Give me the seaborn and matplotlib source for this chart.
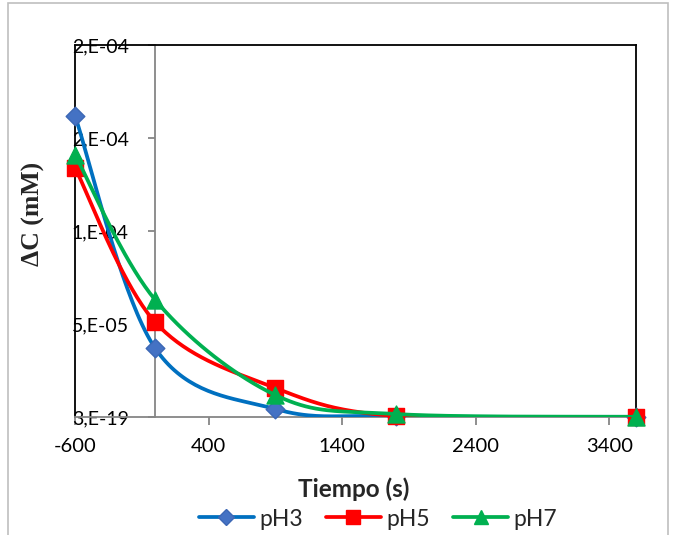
import numpy as np
import pandas as pd
import matplotlib
matplotlib.use("Agg")
import matplotlib.pyplot as plt
import seaborn as sns
from matplotlib.lines import Line2D

# ---- data ----
time_s = [-600, 0, 900, 1800, 3600]
ph3 = [1.62e-4, 3.7e-5, 4.3e-6, 5e-7, 1e-7]
ph5 = [1.34e-4, 5.1e-5, 1.56e-5, 5e-7, 0.0]
ph7 = [1.41e-4, 6.3e-5, 1.18e-5, 1.6e-6, 1e-7]
series_names = ["pH3", "pH5", "pH7"]
y_ticks = [0, 5e-5, 1e-4, 1.5e-4, 2e-4]
y_tick_labels = ["3,E-19", "5,E-05", "1,E-04", "2,E-04", "2,E-04"]
x_ticks = [-600, 400, 1400, 2400, 3400]
x_label = "Tiempo (s)"
y_label = "ΔC (mM)"

line_colors = {"pH3": "#0070C0", "pH5": "#FF0000", "pH7": "#00B050"}
marker_face = {"pH3": "#4472C4", "pH5": "#FF0000", "pH7": "#00B050"}
marker_edge = {"pH3": "#3C67B5", "pH5": "#FF0000", "pH7": "#00B050"}
markers = {"pH3": "D", "pH5": "s", "pH7": "^"}
marker_size = {"pH3": 90, "pH5": 140, "pH7": 150}
legend_marker_size = {"pH3": 8, "pH5": 10, "pH7": 10.5}


def excel_smooth(xs, ys, n=40):
    """Bezier smoothing like Excel's 'smoothed line' (Catmull-Rom control points)."""
    P = np.column_stack([np.asarray(xs, float), np.asarray(ys, float)])
    out = []
    for i in range(len(P) - 1):
        p0 = P[i - 1] if i > 0 else P[i]
        p1, p2 = P[i], P[i + 1]
        p3 = P[i + 2] if i + 2 < len(P) else P[i + 1]
        c1 = p1 + (p2 - p0) / 6.0
        c2 = p2 - (p3 - p1) / 6.0
        t = np.linspace(0, 1, n)[:, None]
        seg = (1 - t) ** 3 * p1 + 3 * (1 - t) ** 2 * t * c1 + 3 * (1 - t) * t ** 2 * c2 + t ** 3 * p2
        out.append(seg if i == 0 else seg[1:])
    return np.vstack(out)


sns.set_theme(style="white")
plt.rcParams["font.family"] = ["Lato", "DejaVu Sans"]

W, H = 675, 535
fig = plt.figure(figsize=(W / 100, H / 100), dpi=100)
ax = fig.add_axes([75 / W, 1 - 417 / H, (636 - 75) / W, (417 - 45) / H])
ax.set_facecolor("white")

gray = "#868686"
ax.set_xlim(-600, 3600)
ax.set_ylim(0, 2e-4)

# primary axes (gray), y axis crosses at x = 0
ax.spines["left"].set_position(("data", 0))
ax.spines["left"].set_color(gray)
ax.spines["left"].set_linewidth(1.3)
ax.spines["bottom"].set_color(gray)
ax.spines["bottom"].set_linewidth(1.3)
ax.spines["top"].set_color("black")
ax.spines["top"].set_linewidth(1.3)
ax.spines["right"].set_color("black")
ax.spines["right"].set_linewidth(1.3)
ax.axvline(-600, color="black", lw=1.3, clip_on=False, zorder=1.5)

ax.set_yticks(y_ticks)
ax.set_yticklabels(y_tick_labels)
ax.set_xticks(x_ticks)
ax.set_xticklabels([str(v) for v in x_ticks])
ax.tick_params(axis="y", direction="out", length=5, width=1.3, color=gray,
               labelsize=14, pad=14, labelcolor="black", left=True)
ax.tick_params(axis="x", direction="out", length=6, width=1.3, color=gray,
               labelsize=14.5, pad=9, labelcolor="black", bottom=True)
ax.grid(False)

datasets = {"pH3": ph3, "pH5": ph5, "pH7": ph7}
z = 3
for name in series_names:
    vals = datasets[name]
    sm = excel_smooth(time_s, vals)
    df_line = pd.DataFrame({"x": sm[:, 0], "y": sm[:, 1]})
    sns.lineplot(data=df_line, x="x", y="y", sort=False, estimator=None,
                 color=line_colors[name], lw=2.7, ax=ax, zorder=z, legend=False)
    df_pts = pd.DataFrame({"x": time_s, "y": vals})
    sns.scatterplot(data=df_pts, x="x", y="y", marker=markers[name],
                    s=marker_size[name], color=marker_face[name],
                    edgecolor=marker_edge[name], linewidth=1.0,
                    ax=ax, zorder=z + 0.5, clip_on=False, legend=False)
    z += 1

ax.set_xlabel("")
ax.set_ylabel("")

fig.text(354 / W, 1 - 489 / H, x_label, ha="center", va="center",
         fontsize=17.5, fontweight="bold", family=["Lato", "DejaVu Sans"])
fig.text(33 / W, 1 - 214 / H, y_label, ha="center", va="center", rotation=90,
         fontsize=18.5, fontweight="bold", family=["Liberation Serif", "DejaVu Serif"])

handles = []
for name in series_names:
    handles.append(Line2D([0], [0], color=line_colors[name], lw=2.7,
                          marker=markers[name], markersize=legend_marker_size[name],
                          markerfacecolor=marker_face[name],
                          markeredgecolor=marker_edge[name]))
fig.legend(handles, series_names, loc="center", bbox_to_anchor=(378 / W, 1 - 519 / H),
           ncol=3, frameon=False, fontsize=16.5, handlelength=2.4, handletextpad=0.25,
           columnspacing=1.0, borderaxespad=0, borderpad=0)

# outer chart border
border = plt.Rectangle((8 / W, -0.05), (668 - 8) / W, 1.05 - 3 / H, transform=fig.transFigure,
                       fill=False, edgecolor="#BFBFBF", lw=1.2)
fig.patches.append(border)

fig.savefig("out.png", dpi=100)
